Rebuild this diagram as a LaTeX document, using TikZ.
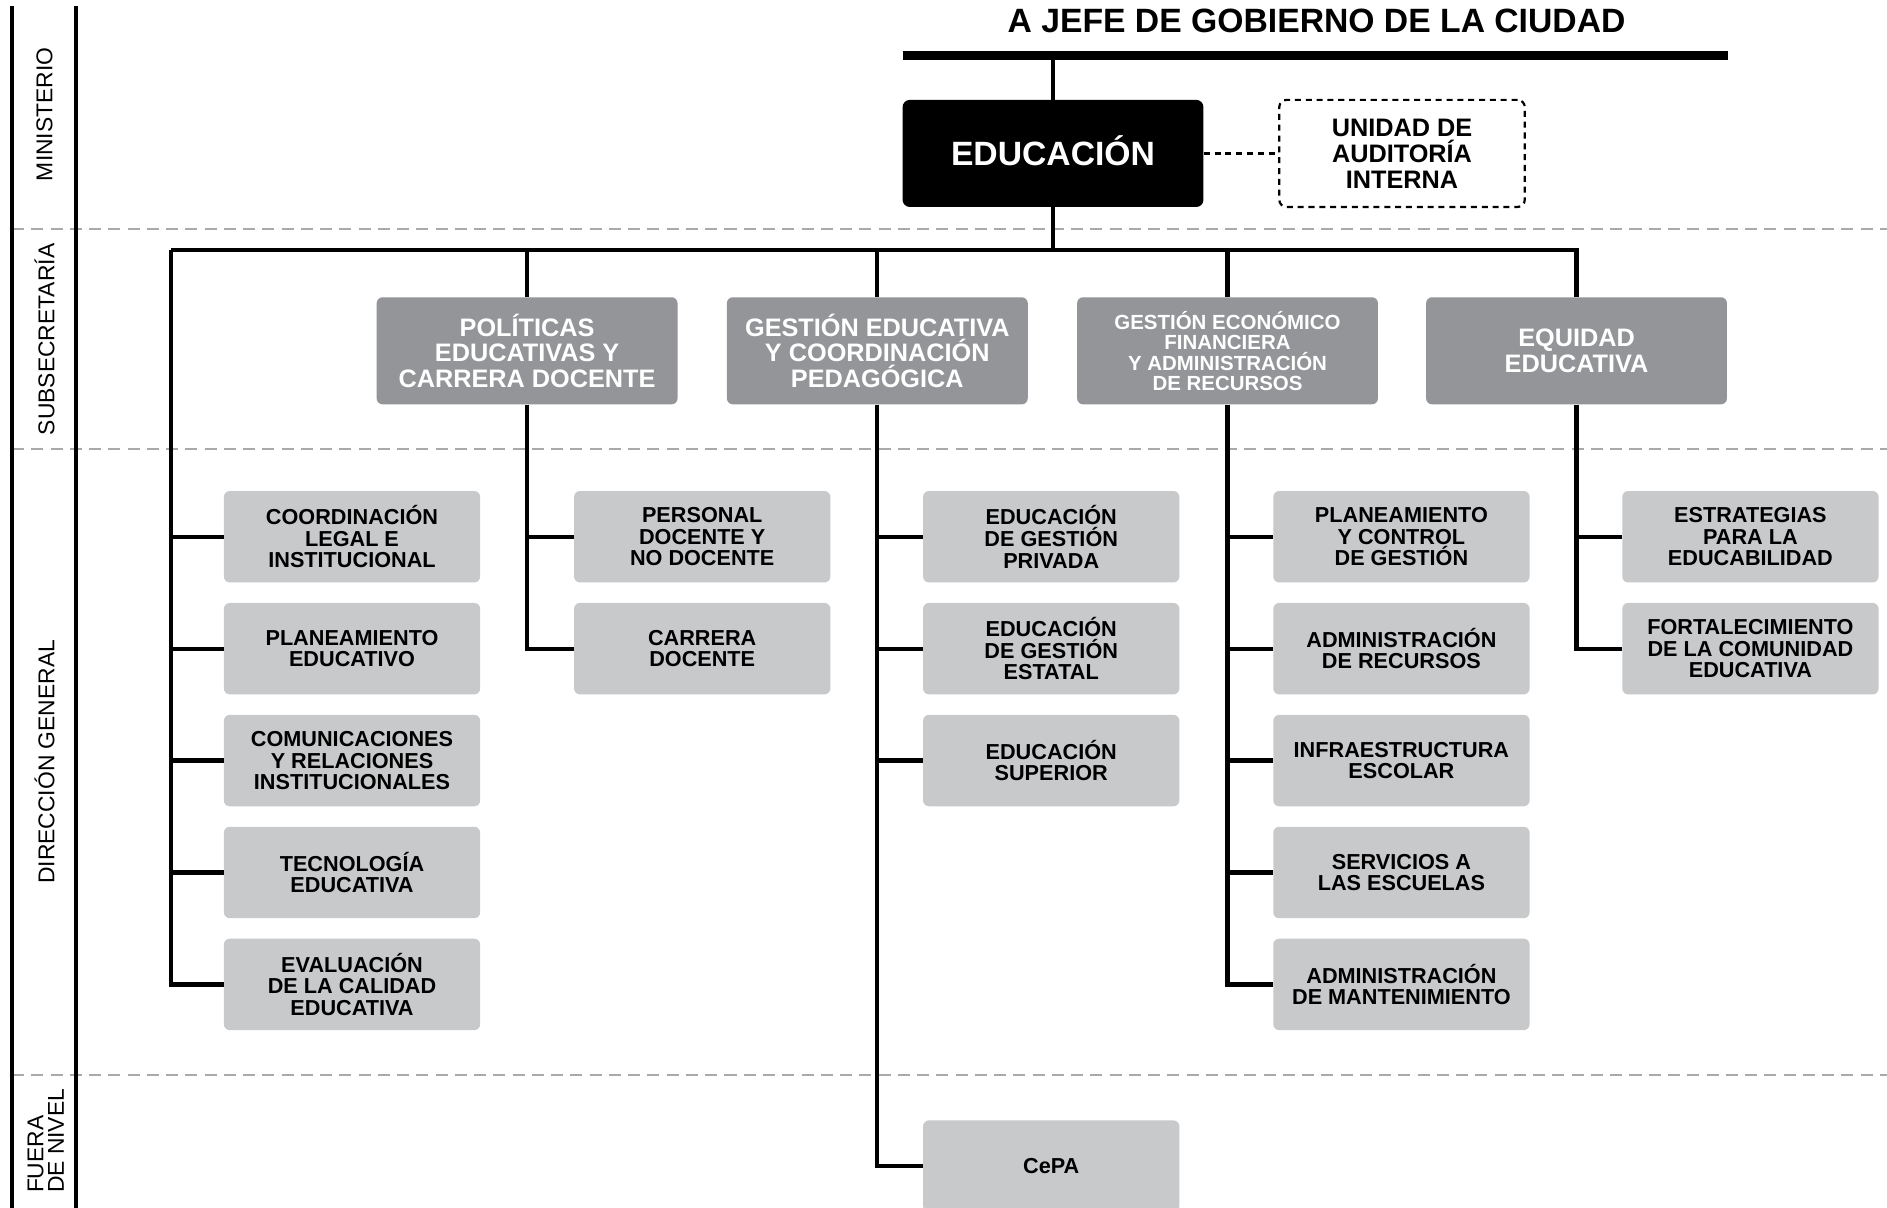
\documentclass[tikz,border=0pt]{standalone}
\usepackage{fontspec}
\setmainfont{Liberation Sans}
\definecolor{subgray}{HTML}{939598}
\definecolor{dirgray}{HTML}{C8C9CB}
\definecolor{sepgray}{HTML}{A7A9AC}
\tikzset{
  conn/.style={line width=3.5pt},
  sepline/.style={draw=sepgray, line width=1.6pt, dash pattern=on 10pt off 6pt},
  dirbox/.style={fill=dirgray, rounded corners=5pt, minimum width=213pt, minimum height=76pt, inner sep=0pt, align=center, font=\bfseries\fontsize{18}{18}\selectfont},
  subbox/.style={fill=subgray, rounded corners=5pt, minimum width=250pt, minimum height=89pt, inner sep=0pt, align=center, text=white, font=\bfseries\fontsize{21}{21.5}\selectfont},
  edubox/.style={fill=black, rounded corners=6pt, minimum width=250pt, minimum height=89pt, inner sep=0pt, text=white, text height=20pt, text depth=0pt, font=\bfseries\fontsize{28}{28}\selectfont},
  audbox/.style={draw=black, line width=1.8pt, dash pattern=on 5pt off 4pt, rounded corners=6pt, minimum width=204pt, minimum height=89pt, inner sep=0pt, align=center, font=\bfseries\fontsize{21}{21.5}\selectfont},
  lvl/.style={rotate=90, inner sep=0pt, font=\fontsize{19}{17}\selectfont},
}
\begin{document}
\begin{tikzpicture}[x=1pt,y=-1pt]
\clip (0,0) rectangle (1568,1003);
\fill[white] (0,0) rectangle (1568,1003);

% separators
\foreach \yy in {190,373,893} \draw[sepline] (10,\yy) -- (1568,\yy);

% left frame lines
\draw[conn] (10,5) -- (10,1010);
\draw[conn] (63,5) -- (63,1010);

% level labels
\node[lvl] (lmin) at (37,95) {MINISTERIO};
\node[lvl] (lsub) at (37,282) {SUBSECRETARÍA};
\node[lvl] (ldir) at (37,633) {DIRECCIÓN GENERAL};
\node[lvl, align=left] (lfue) at (38,948) {FUERA\\DE NIVEL};

% title and top bar
\node[font=\bfseries\fontsize{28}{28}\selectfont, inner sep=0pt] (title) at (1094,17) {A JEFE DE GOBIERNO DE LA CIUDAD};
\coordinate (barL) at (750,46);
\coordinate (barR) at (1436,46);
\draw[line width=7pt] (barL) -- (barR);
\coordinate (barT) at (875,46);

% ministry
\node[edubox] (edu) at (875,127.5) {EDUCACIÓN};
\node[audbox] (aud) at (1165,127.5) {UNIDAD DE\\AUDITORÍA\\INTERNA};
\draw[conn] (barT) -- (edu.north);
\draw[line width=1.8pt, dash pattern=on 5pt off 4pt] (edu.east) -- (aud.west);

% subsecretarias
\node[subbox] (s1) at (438,291.5) {POLÍTICAS\\EDUCATIVAS Y\\CARRERA DOCENTE};
\node[subbox] (s2) at (729,291.5) {GESTIÓN EDUCATIVA\\Y COORDINACIÓN\\PEDAGÓGICA};
\node[subbox, font=\bfseries\fontsize{17}{17}\selectfont] (s3) at (1020,291.5) {GESTIÓN ECONÓMICO\\FINANCIERA\\Y ADMINISTRACIÓN\\DE RECURSOS};
\node[subbox] (s4) at (1310,291.5) {EQUIDAD\\EDUCATIVA};

% bus
\coordinate (busL) at (142,208);
\coordinate (busE) at (875,208);
\draw[conn] (edu.south) -- (busE);
\draw[conn] (busL) -- (s4.north |- busL) -- (s4.north);
\draw[conn] (s1.north |- busL) -- (s1.north);
\draw[conn] (s2.north |- busL) -- (s2.north);
\draw[conn] (s3.north |- busL) -- (s3.north);

% column 1 (direct from ministry)
\node[dirbox] (a1) at (292.5,446) {COORDINACIÓN\\LEGAL E\\INSTITUCIONAL};
\node[dirbox] (a2) at (292.5,539) {PLANEAMIENTO\\EDUCATIVO};
\node[dirbox] (a3) at (292.5,632) {COMUNICACIONES\\Y RELACIONES\\INSTITUCIONALES};
\node[dirbox] (a4) at (292.5,725) {TECNOLOGÍA\\EDUCATIVA};
\node[dirbox] (a5) at (292.5,818) {EVALUACIÓN\\DE LA CALIDAD\\EDUCATIVA};
\draw[conn] (busL) |- (a5.west);
\foreach \n in {a1,a2,a3,a4} \draw[conn] (busL |- \n.west) -- (\n.west);

% column 2
\node[dirbox] (b1) at (583.5,446) {PERSONAL\\DOCENTE Y\\NO DOCENTE};
\node[dirbox] (b2) at (583.5,539) {CARRERA\\DOCENTE};
\draw[conn] (s1.south) |- (b2.west);
\draw[conn] (s1.south |- b1.west) -- (b1.west);

% column 3
\node[dirbox] (c1) at (873.5,446) {EDUCACIÓN\\DE GESTIÓN\\PRIVADA};
\node[dirbox] (c2) at (873.5,539) {EDUCACIÓN\\DE GESTIÓN\\ESTATAL};
\node[dirbox] (c3) at (873.5,632) {EDUCACIÓN\\SUPERIOR};
\node[dirbox] (c4) at (873.5,969) {CePA};
\draw[conn] (s2.south) |- (c4.west);
\foreach \n in {c1,c2,c3} \draw[conn] (s2.south |- \n.west) -- (\n.west);

% column 4
\node[dirbox] (d1) at (1164.5,446) {PLANEAMIENTO\\Y CONTROL\\DE GESTIÓN};
\node[dirbox] (d2) at (1164.5,539) {ADMINISTRACIÓN\\DE RECURSOS};
\node[dirbox] (d3) at (1164.5,632) {INFRAESTRUCTURA\\ESCOLAR};
\node[dirbox] (d4) at (1164.5,725) {SERVICIOS A\\LAS ESCUELAS};
\node[dirbox] (d5) at (1164.5,818) {ADMINISTRACIÓN\\DE MANTENIMIENTO};
\draw[conn] (s3.south) |- (d5.west);
\foreach \n in {d1,d2,d3,d4} \draw[conn] (s3.south |- \n.west) -- (\n.west);

% column 5
\node[dirbox] (e1) at (1454.5,446) {ESTRATEGIAS\\PARA LA\\EDUCABILIDAD};
\node[dirbox] (e2) at (1454.5,539) {FORTALECIMIENTO\\DE LA COMUNIDAD\\EDUCATIVA};
\draw[conn] (s4.south) |- (e2.west);
\draw[conn] (s4.south |- e1.west) -- (e1.west);
\end{tikzpicture}
\end{document}
